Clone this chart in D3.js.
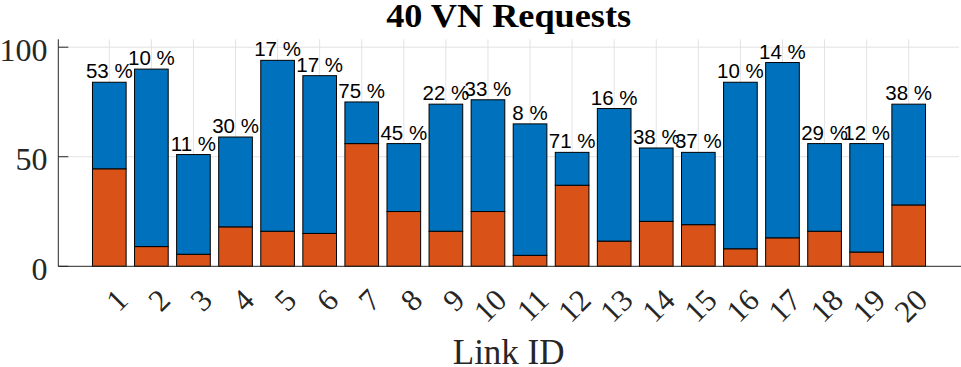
<!DOCTYPE html>
<html>
<head>
<meta charset="utf-8">
<script src="https://cdn.jsdelivr.net/npm/d3@7"></script>
<style>
  body { margin: 0; background: #fff; }
  svg { display: block; }
</style>
</head>
<body>
<svg id="chart" width="961" height="367"></svg>
<script>
// link ids and VN counts
var links = [1,2,3,4,5,6,7,8,9,10,11,12,13,14,15,16,17,18,19,20];
var lower = [44.5,9,5.5,18,16,15,56,25,16,25,5,37,11.5,20.5,19,8,13,16,6.5,28];
var upper = [39.5,81,45.5,41,78,72,19,31,58,51,60,15,60.5,33.5,33,76,80,40,49.5,46];
var pct = [53,10,11,30,17,17,75,45,22,33,8,71,16,38,37,10,14,29,12,38];
var yTicks = [0,50,100];

var svg = d3.select('#chart');
// note: "top" is taken by window.top, so plot edges get own names
var pLeft = 58.3, pRight = 959, pTop = 39.3, pBottom = 266.3;

var x = d3.scaleLinear().domain([1,20]).range([109.3, 908.7]);
var y = d3.scaleLinear().domain([0,103.6]).range([pBottom, pTop]);
var bw = (x(2) - x(1)) * 0.8;

var rows = links.map(function (d, i) { return {id: d, lower: lower[i], upper: upper[i]}; });
var stack = d3.stack().keys(['lower','upper'])(rows);
var colors = {lower: '#D95319', upper: '#0072BD'};

// grid
svg.append('g').selectAll('line').data(links).enter().append('line')
    .attr('x1', d => x(d)).attr('x2', d => x(d))
    .attr('y1', pTop).attr('y2', pBottom)
    .attr('stroke', '#e3e3e3').attr('stroke-width', 1);
svg.append('g').selectAll('line').data(yTicks.slice(1)).enter().append('line')
    .attr('x1', pLeft).attr('x2', pRight)
    .attr('y1', d => y(d)).attr('y2', d => y(d))
    .attr('stroke', '#e3e3e3').attr('stroke-width', 1);

// inward ticks
svg.append('g').selectAll('line').data(yTicks).enter().append('line')
    .attr('x1', pLeft).attr('x2', pLeft + 10)
    .attr('y1', d => y(d)).attr('y2', d => y(d))
    .attr('stroke', '#262626');

// bars
svg.append('g').selectAll('g').data(stack).enter().append('g')
    .attr('fill', d => colors[d.key])
    .selectAll('rect').data(d => d).enter().append('rect')
    .attr('x', d => x(d.data.id) - bw / 2)
    .attr('width', bw)
    .attr('y', d => y(d[1]))
    .attr('height', d => y(d[0]) - y(d[1]))
    .attr('stroke', '#000').attr('stroke-width', 1);

// axes lines
svg.append('line').attr('x1', pLeft).attr('x2', pLeft).attr('y1', pTop).attr('y2', pBottom)
    .attr('stroke', '#262626');
svg.append('line').attr('x1', pLeft).attr('x2', pRight + 2).attr('y1', pBottom).attr('y2', pBottom)
    .attr('stroke', '#262626');

// percent labels
svg.append('g').selectAll('text').data(rows).enter().append('text')
    .attr('x', d => x(d.id))
    .attr('y', d => y(d.lower + d.upper) - 4)
    .attr('text-anchor', 'middle')
    .attr('font-family', '"Liberation Sans", Arial, sans-serif')
    .attr('font-size', 20.5)
    .attr('fill', '#000')
    .text((d, i) => pct[i] + ' %');

// y tick labels
svg.append('g').selectAll('text').data(yTicks).enter().append('text')
    .attr('x', 47.5)
    .attr('y', d => y(d) + 13.5)
    .attr('text-anchor', 'end')
    .attr('font-family', '"Liberation Serif", "Times New Roman", serif')
    .attr('font-size', 32)
    .attr('fill', '#262626')
    .text(d => d);

// x tick labels, rotated
svg.append('g').selectAll('text').data(links).enter().append('text')
    .attr('transform', d => 'translate(' + (x(d) + 20.5) + ',302) rotate(-45)')
    .attr('text-anchor', 'end')
    .attr('font-family', '"Liberation Serif", "Times New Roman", serif')
    .attr('font-size', 31)
    .attr('fill', '#262626')
    .text(d => d);

// title and axis label
svg.append('text')
    .attr('x', (pLeft + pRight) / 2).attr('y', 27.3)
    .attr('text-anchor', 'middle')
    .attr('font-family', '"Liberation Serif", "Times New Roman", serif')
    .attr('font-weight', 'bold')
    .attr('font-size', 33)
    .attr('textLength', 245)
    .attr('lengthAdjust', 'spacingAndGlyphs')
    .attr('fill', '#000')
    .text('40 VN Requests');

svg.append('text')
    .attr('x', (pLeft + pRight) / 2).attr('y', 364)
    .attr('text-anchor', 'middle')
    .attr('font-family', '"Liberation Serif", "Times New Roman", serif')
    .attr('font-size', 35)
    .attr('fill', '#262626')
    .text('Link ID');
</script>
</body>
</html>
